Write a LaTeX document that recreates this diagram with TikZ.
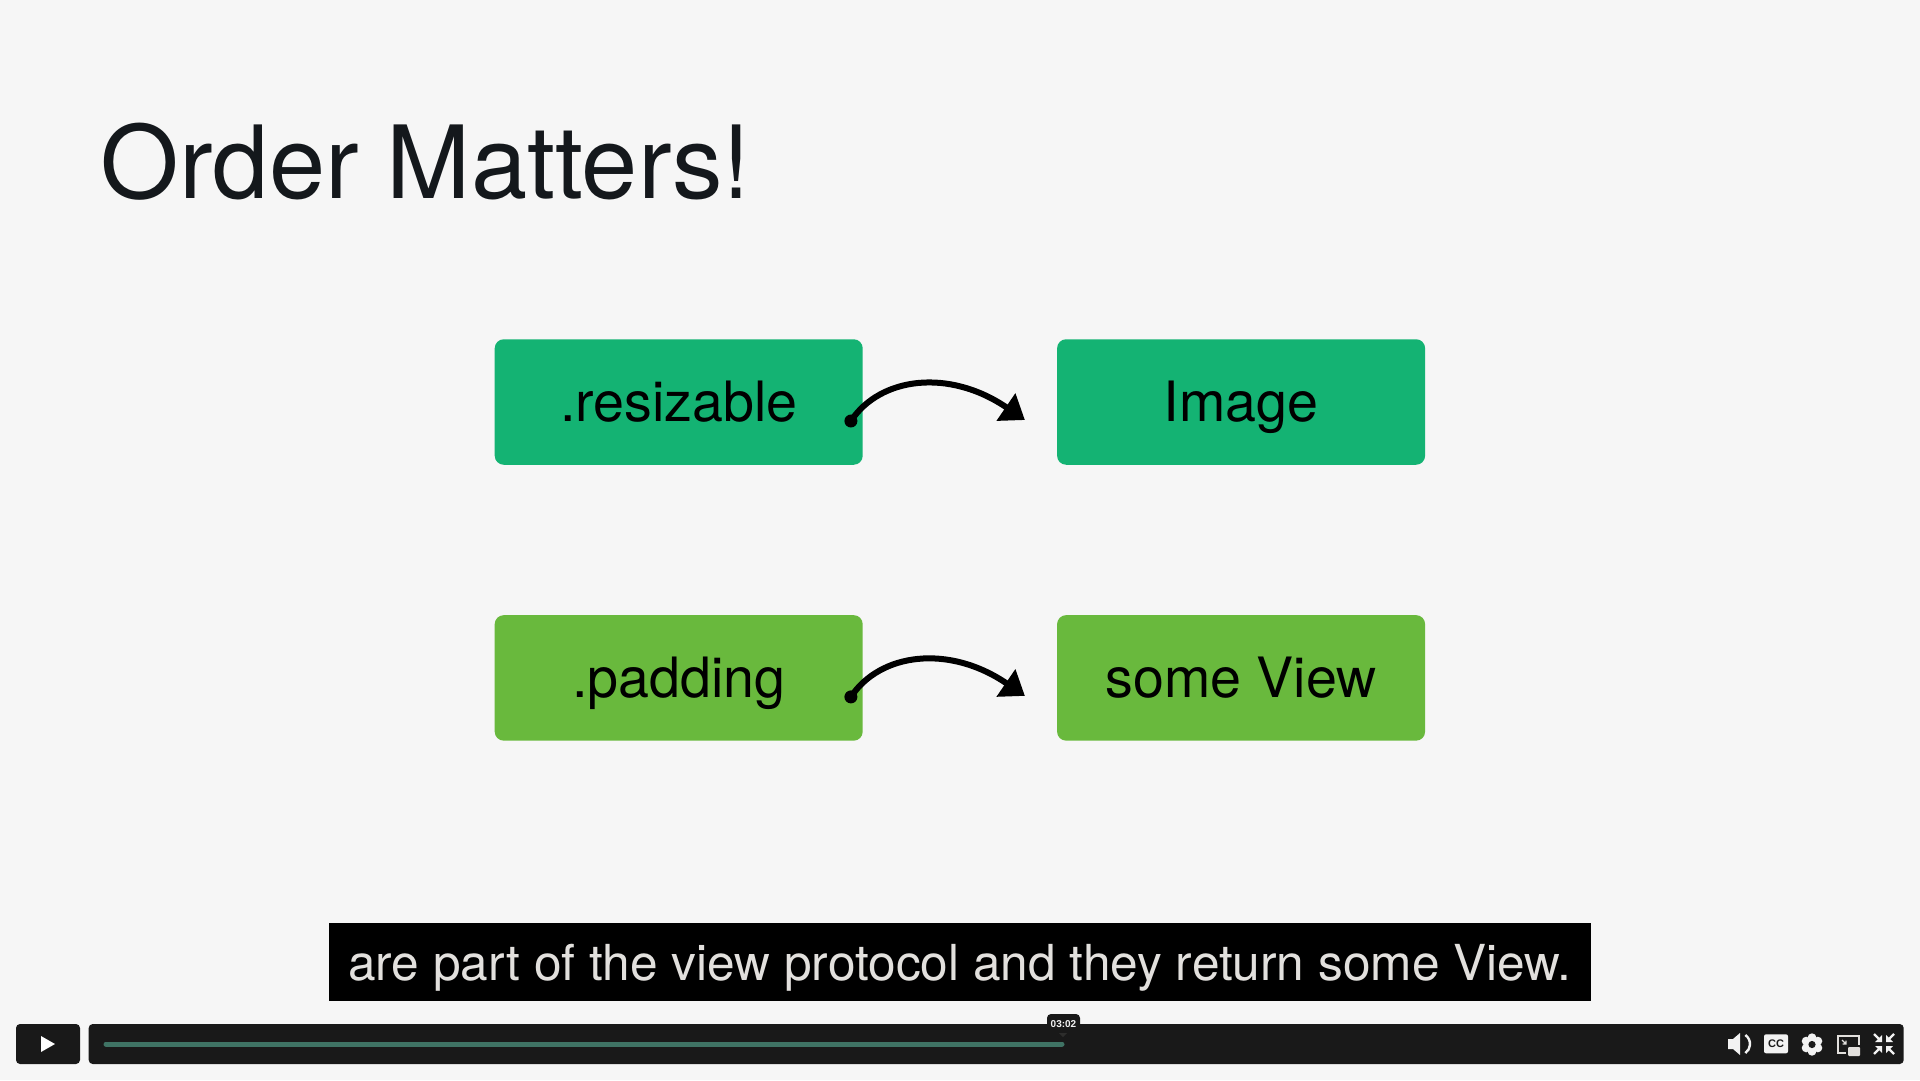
\documentclass[tikz,border=0pt]{standalone}
\usepackage{fontspec}
\setmainfont{Liberation Sans}
\newfontfamily\heros{TeX Gyre Heros}
\usepackage{xcolor}
\usetikzlibrary{arrows.meta,positioning,calc}
\definecolor{omPaper}{HTML}{F6F6F6}
\definecolor{omTeal}{HTML}{14B373}
\definecolor{omGreen}{HTML}{69B93D}
\definecolor{omInk}{HTML}{14181C}
\definecolor{omBar}{HTML}{191919}
\definecolor{omTrack}{HTML}{3F7364}
\definecolor{omIcon}{HTML}{F2F2F2}
\definecolor{omSoft}{HTML}{E2E0DD}
\tikzset{
  code box/.style={rounded corners=9pt,minimum width=368pt,inner sep=0pt,text height=50pt,text depth=10.6pt,
    minimum height=125.5pt,font=\heros\fontsize{55.6}{60}\selectfont,text=black},
  player box/.style={fill=omBar,rounded corners=4pt,inner sep=0pt},
  hand arrow/.style={line width=6pt,draw=black,-{Triangle[length=23pt,width=32pt,fill=black]}},
  icon line/.style={draw=omIcon,line width=2.4pt}
}
\begin{document}
\begin{tikzpicture}[x=1pt,y=-1pt]
\useasboundingbox[fill=omPaper] (0,0) rectangle (1920,1080);
\node[anchor=base west,inner sep=0pt,font=\heros\fontsize{101}{110}\selectfont,text=omInk] (title) at (100.5,198.5) {Order Matters!};
% boxes
\node[code box,fill=omTeal] (resizable) at (678.7,402) {.resizable};
\node[code box,fill=omTeal,right=194pt of resizable] (image) {Image};
\node[code box,fill=omGreen,below=150pt of resizable] (padding) {.padding};
\node[code box,fill=omGreen,right=194pt of padding] (someview) {some View};
% arrows
\foreach \from/\to in {resizable/image,padding/someview}{
  \coordinate (s) at ([shift={(-12,19)}]\from.east);
  \coordinate (e) at ([shift={(-32,18)}]\to.west);
  \fill (s) circle (6.5pt);
  \draw[hand arrow] (s) .. controls +(29,-44) and +(-76,-52) .. (e);
}
% caption
\node[fill=black,minimum width=1262pt,minimum height=78pt,inner sep=0pt,text height=47pt,text depth=10pt,
  text=omSoft,font=\heros\fontsize{49.6}{54}\selectfont] (caption) at (960,962) {are part of the view protocol and they return some View.};
% player
\node[player box,minimum width=64pt,minimum height=40pt] (play) at (48,1044) {};
\node[player box,minimum width=1815pt,minimum height=40pt,anchor=west] (bar) at (88.5,1044) {};
\fill[white] (41,1036) -- (55,1044) -- (41,1052) -- cycle;
\draw[omTrack,line width=5pt,line cap=round] (106,1044) -- (1062,1044);
\node[player box,minimum width=33pt,minimum height=22pt] (tip) at (1063.5,1025) {};
\node[text=omIcon,font=\bfseries\fontsize{10}{10}\selectfont,inner sep=0pt] (time) at (1063.5,1024) {03:02};
\fill[black!80!omSoft] (1059,1033) -- (1067,1033) -- (1063,1037) -- cycle;
% speaker
\fill[omIcon] (1728,1039) -- (1733,1039) -- (1740,1033) -- (1740,1055) -- (1733,1049) -- (1728,1049) -- cycle;
\draw[icon line] (1739,1044) ++(-55:11) arc (-55:55:11);
% cc
\node[fill=omIcon,rounded corners=2pt,minimum width=24pt,minimum height=19pt,inner sep=0pt,text=omBar,
  font=\bfseries\fontsize{11}{11}\selectfont] (cc) at (1776,1043.8) {CC};
% gear
\foreach \a in {30,90,...,330}{\fill[omIcon] (1812,1044.5) ++(\a:6.8) circle (4.4pt);}
\fill[omIcon] (1812,1044.5) circle (7pt);
\fill[omBar] (1812,1044.5) circle (3.6pt);
% picture in picture
\draw[draw=omSoft,line width=2pt] (1846,1053) -- (1838,1053) -- (1838,1036) -- (1859,1036) -- (1859,1045);
\fill[omSoft,rounded corners=1pt] (1848,1047) rectangle (1860,1056);
\draw[draw=omSoft,line width=1.4pt] (1842,1040) -- (1846,1044) (1846,1040.5) -- (1846,1044) -- (1842.5,1044);
% shrink
\foreach \sx/\sy in {-1/-1,1/-1,-1/1,1/1}{
  \draw[draw=omIcon,line width=2.2pt] (1884,1044) ++(10*\sx,10*\sy) -- ++(-6*\sx,-6*\sy);
  \fill[omIcon] (1884,1044) ++(2*\sx,2*\sy) -- ++(7*\sx,0) -- ++(-7*\sx,7*\sy) -- cycle;
}
\end{tikzpicture}
\end{document}
